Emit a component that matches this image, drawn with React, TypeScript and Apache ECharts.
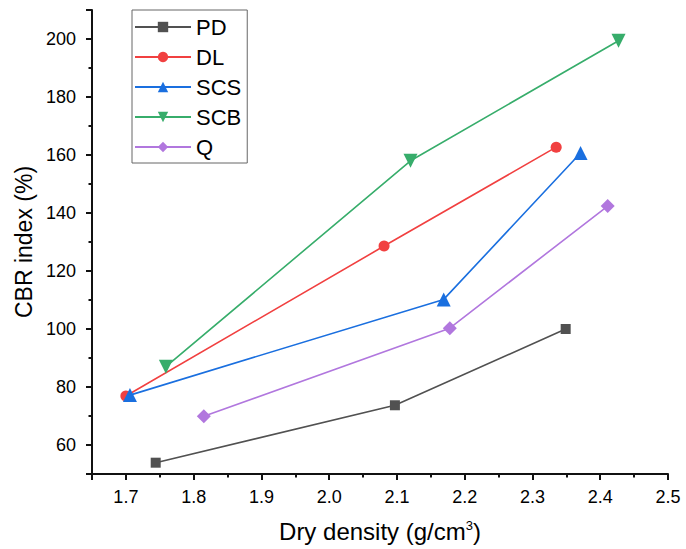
import React, { useEffect, useRef } from "react";
import * as echarts from "echarts";

const seriesNames = ["PD", "DL", "SCS", "SCB", "Q"];
const pdX = [1.744, 2.097, 2.349];
const pdY = [53.9, 73.7, 100.0];
const dlX = [1.700, 2.081, 2.335];
const dlY = [76.9, 128.6, 162.7];
const scsX = [1.706, 2.169, 2.371];
const scsY = [77.2, 110.2, 160.7];
const scbX = [1.759, 2.120, 2.427];
const scbY = [87.0, 158.0, 199.4];
const qX = [1.815, 2.178, 2.411];
const qY = [69.9, 100.3, 142.4];

const colors = ["#515151", "#F14040", "#1A6FDF", "#37AD6B", "#B177DE"];
const FONT = "'Liberation Sans', Arial, sans-serif";

function pairs(xs: number[], ys: number[]) {
  return xs.map((x, i) => [x, ys[i]]);
}

export default function App() {
  const ref = useRef<HTMLDivElement>(null);
  useEffect(() => {
    if (!ref.current) return;
    const chart = echarts.init(ref.current, null, { renderer: "svg" });
    const xs = [pdX, dlX, scsX, scbX, qX];
    const ys = [pdY, dlY, scsY, scbY, qY];
    const symbols = ["rect", "circle", "triangle", "triangle", "diamond"];
    const sizes = [10, 11, 14, 14, 14];
    const rotates = [0, 0, 0, 180, 0];
    const axisLine = { show: true, lineStyle: { color: "#111", width: 2 } };
    chart.setOption({
      animation: false,
      grid: { left: 92, right: 18, top: 10, bottom: 75, containLabel: false },
      legend: {
        orient: "vertical",
        left: 132,
        top: 10,
        padding: [4, 6, 3, 2],
        itemGap: 4,
        itemWidth: 56,
        itemHeight: 13,
        borderColor: "#666",
        borderWidth: 1,
        selectedMode: false,
        data: seriesNames,
        textStyle: { fontFamily: FONT, fontSize: 22, color: "#000", lineHeight: 26 },
      },
      xAxis: [
        {
          type: "value",
          position: "bottom",
          min: 1.65,
          max: 2.5,
          splitNumber: 8,
          axisLine,
          axisTick: { show: true, length: 6, lineStyle: { color: "#111", width: 2 } },
          splitLine: { show: false },
          axisLabel: {
            margin: 14,
            fontFamily: FONT,
            fontSize: 18,
            color: "#000",
            formatter: (v: number) =>
              Math.abs(v * 10 - Math.round(v * 10)) > 1e-6 ? "" : v.toFixed(1),
          },
          name: "Dry density (g/cm{sup|3})",
          nameLocation: "middle",
          nameGap: 45,
          nameTextStyle: {
            fontFamily: FONT,
            fontSize: 24,
            color: "#000",
            rich: { sup: { fontFamily: FONT, fontSize: 13, color: "#000", verticalAlign: "top", padding: [0, 0, 10, 0] } },
          },
        },
        {
          type: "value",
          position: "bottom",
          min: 1.65,
          max: 2.5,
          interval: 0.05,
          axisLine: { show: false },
          axisTick: { show: true, length: 3.5, lineStyle: { color: "#111", width: 2 } },
          axisLabel: { show: false },
          splitLine: { show: false },
        },
      ],
      yAxis: [
        {
          type: "value",
          position: "left",
          min: 50,
          max: 210,
          splitNumber: 8,
          axisLine,
          axisTick: { show: true, length: 6, lineStyle: { color: "#111", width: 2 } },
          splitLine: { show: false },
          axisLabel: {
            margin: 16,
            fontFamily: FONT,
            fontSize: 18,
            color: "#000",
            formatter: (v: number) => (Math.round(v) % 20 === 0 ? String(Math.round(v)) : ""),
          },
          name: "CBR index (%)",
          nameLocation: "middle",
          nameGap: 52,
          nameTextStyle: { fontFamily: FONT, fontSize: 23, color: "#000" },
        },
        {
          type: "value",
          position: "left",
          min: 50,
          max: 210,
          interval: 10,
          axisLine: { show: false },
          axisTick: { show: true, length: 3.5, lineStyle: { color: "#111", width: 2 } },
          axisLabel: { show: false },
          splitLine: { show: false },
        },
      ],
      series: seriesNames.map((name, i) => ({
        name,
        type: "line",
        xAxisIndex: 0,
        yAxisIndex: 0,
        data: pairs(xs[i], ys[i]),
        symbol: symbols[i],
        symbolSize: sizes[i],
        symbolRotate: rotates[i],
        showAllSymbol: true,
        color: colors[i],
        lineStyle: { color: colors[i], width: 1.6 },
        itemStyle: { color: colors[i] },
        z: 2 + i,
      })),
    });
    return () => chart.dispose();
  }, []);
  return (
    <div
      ref={ref}
      style={{ position: "fixed", left: 0, top: 0, width: 686, height: 549, background: "#fff" }}
    />
  );
}
